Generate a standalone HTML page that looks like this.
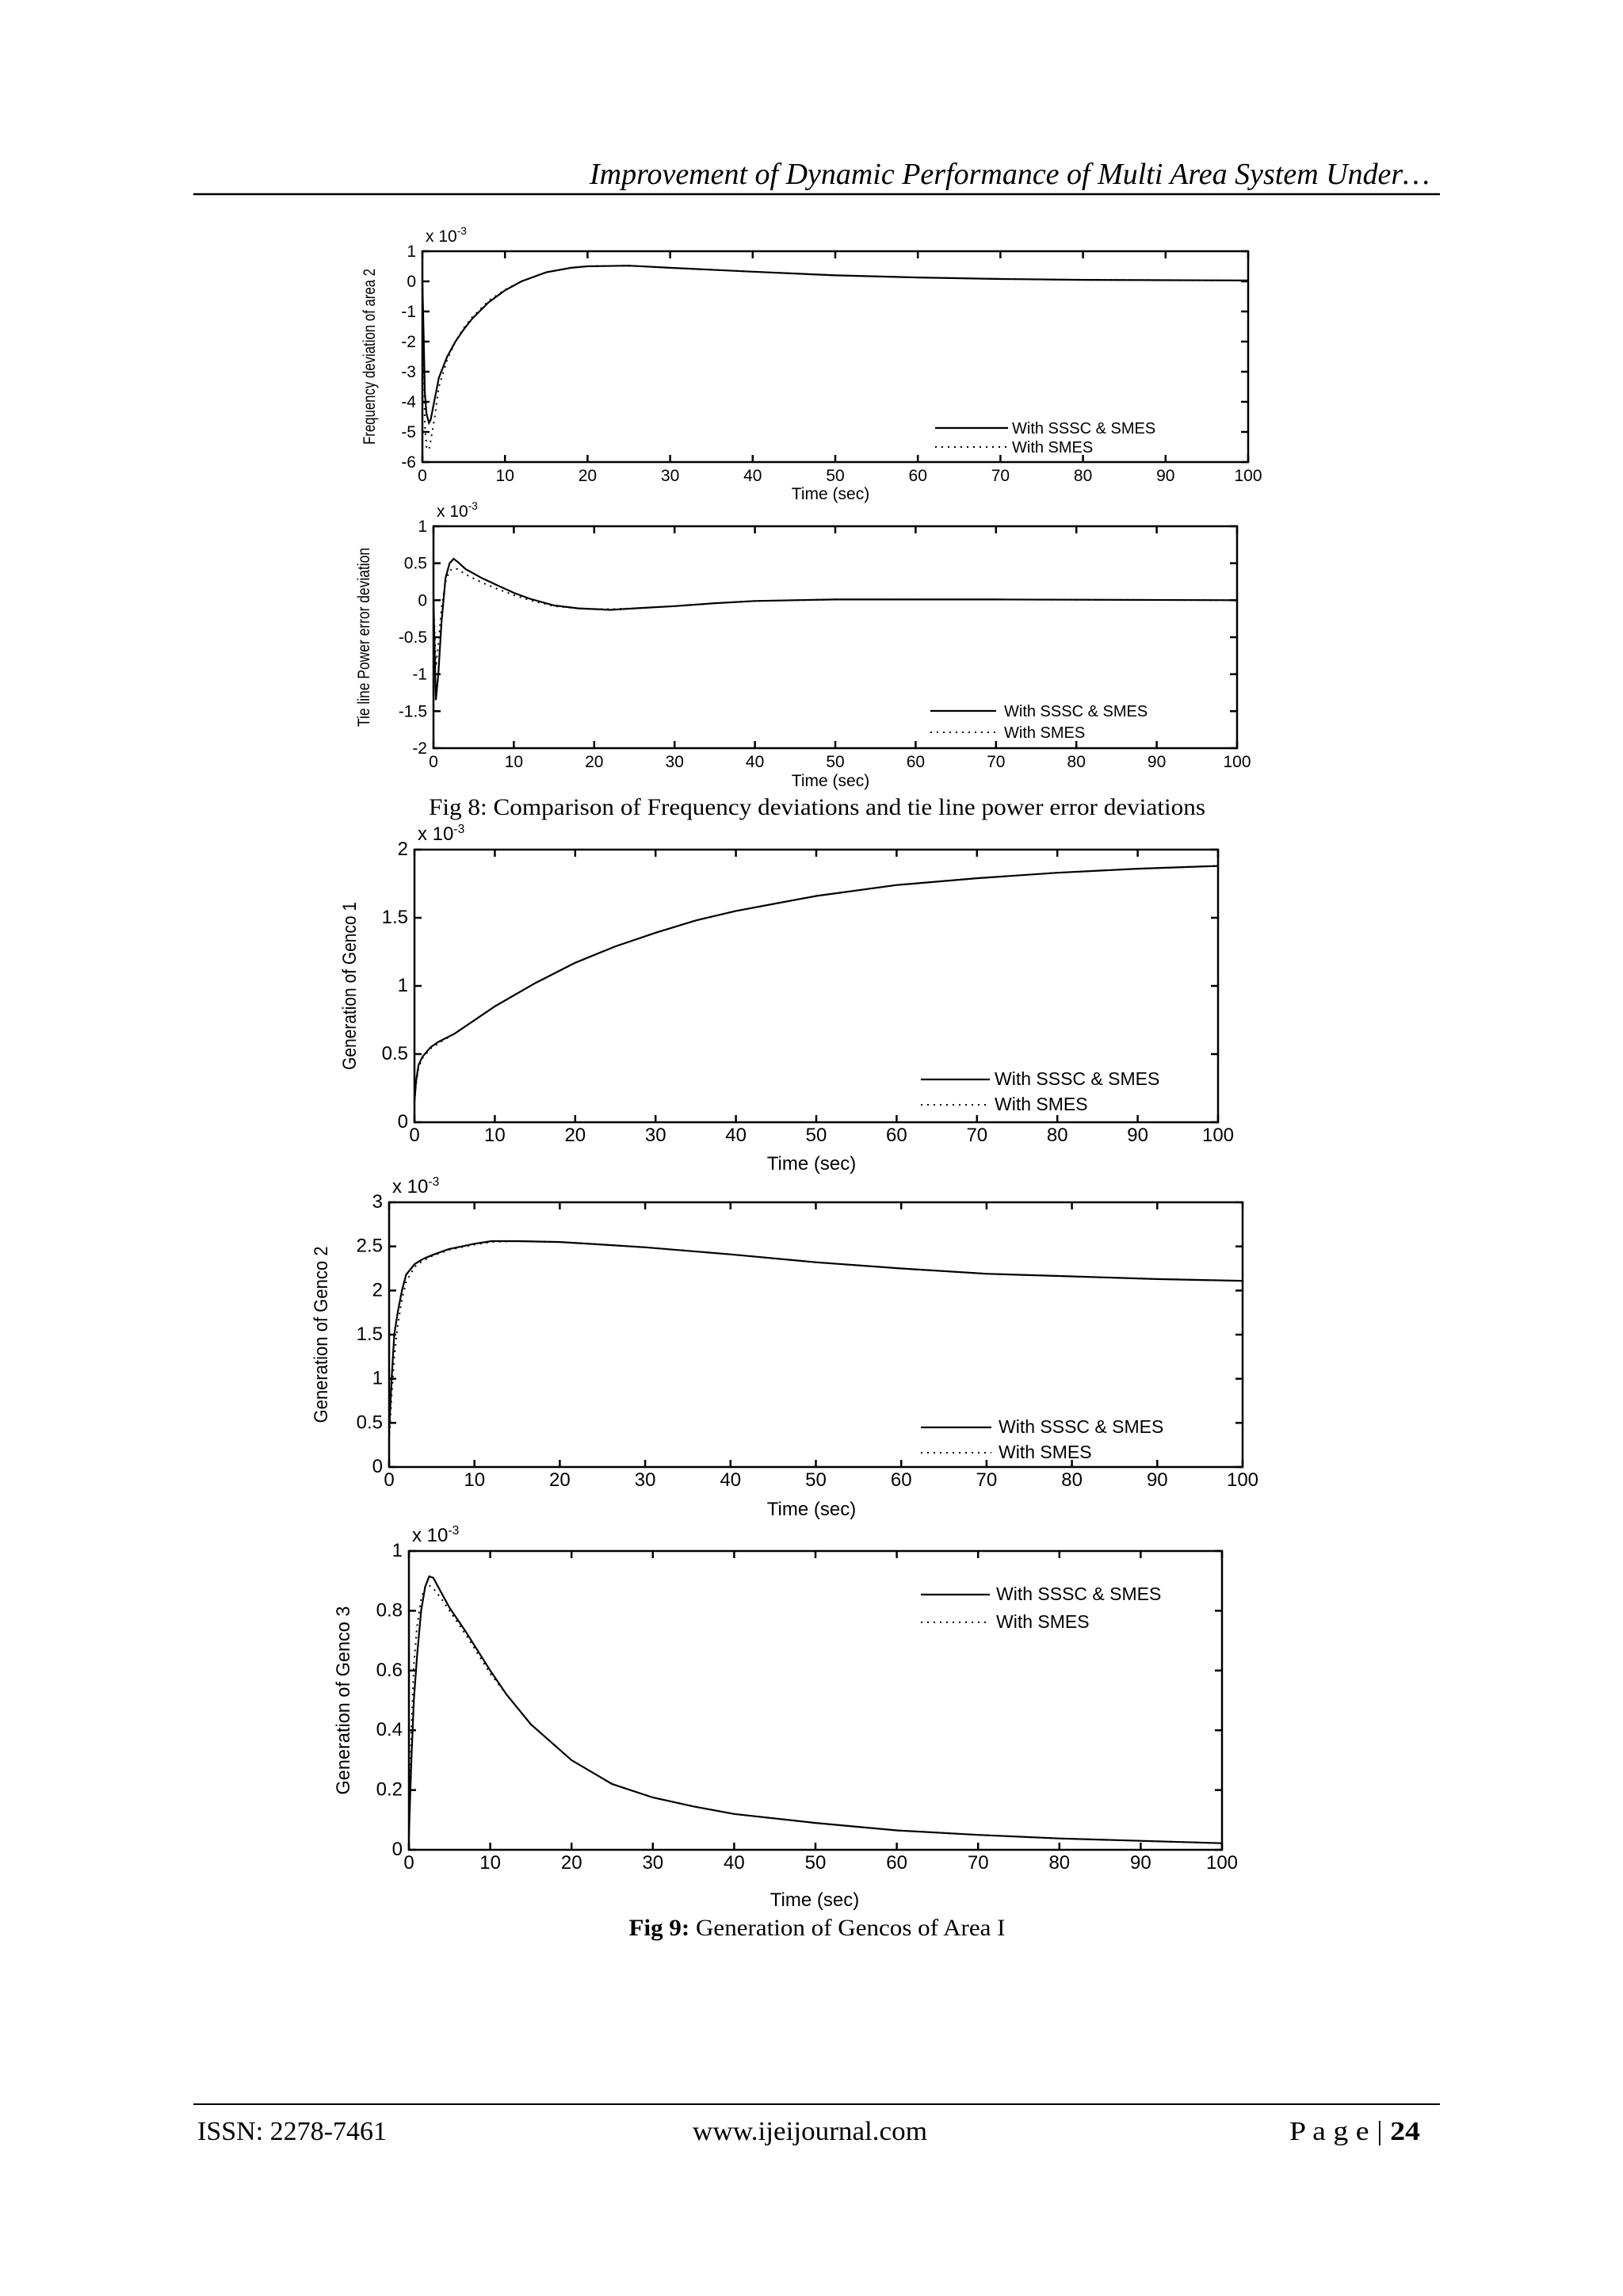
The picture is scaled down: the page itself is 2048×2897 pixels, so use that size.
<!DOCTYPE html>
<html><head><meta charset="utf-8"><style>
html,body{margin:0;padding:0;background:#fff;}
svg{display:block;}
</style></head><body>
<svg id="page" xmlns="http://www.w3.org/2000/svg" width="2048" height="2897" viewBox="0 0 2048 2897">
<rect x="0" y="0" width="2048" height="2897" fill="#fff"/>
<text x="1804" y="232" text-anchor="end" font-family="Liberation Serif, serif" font-style="italic" font-size="38" textLength="1060" lengthAdjust="spacingAndGlyphs">Improvement of Dynamic Performance of Multi Area System Under…</text>
<line x1="244" y1="245" x2="1817" y2="245" stroke="#000" stroke-width="2.5"/>
<text x="1031" y="1028" text-anchor="middle" font-family="Liberation Serif, serif" font-size="30" textLength="980" lengthAdjust="spacingAndGlyphs">Fig 8: Comparison of Frequency deviations and tie line power error deviations</text>
<text x="1031" y="2442" text-anchor="middle" font-family="Liberation Serif, serif" font-size="30" textLength="475" lengthAdjust="spacingAndGlyphs"><tspan font-weight="bold">Fig 9:</tspan> Generation of Gencos of Area I</text>
<line x1="244" y1="2655" x2="1817" y2="2655" stroke="#000" stroke-width="2"/>
<text x="249" y="2700" font-family="Liberation Serif, serif" font-size="34" textLength="239" lengthAdjust="spacingAndGlyphs">ISSN: 2278-7461</text>
<text x="874" y="2700" font-family="Liberation Serif, serif" font-size="34" textLength="296" lengthAdjust="spacingAndGlyphs">www.ijeijournal.com</text>
<text x="1627" y="2700" font-family="Liberation Serif, serif" font-size="34" textLength="165" lengthAdjust="spacingAndGlyphs">P a g e | <tspan font-weight="bold">24</tspan></text>
<g id="charts"></g>
</svg>
<script>
// ---- Chart data (values in units of 1e-3) ----
const freqT = [0,0.2,0.3,0.5,0.8,1,1.5,2,3,4,5,6,8,10,12,15,18,20,25,30,40,50,60,70,80,90,100];
const freqSolid = [0,-2.4,-3.7,-4.4,-4.7,-4.6,-3.9,-3.2,-2.5,-2.0,-1.6,-1.25,-0.7,-0.3,0,0.3,0.45,0.5,0.52,0.45,0.32,0.2,0.13,0.08,0.05,0.04,0.03];
const freqDotted = [0,-3.0,-4.8,-5.5,-5.6,-5.3,-4.5,-3.5,-2.6,-2.0,-1.55,-1.2,-0.65,-0.28,0,0.3,0.45,0.5,0.52,0.45,0.32,0.2,0.13,0.08,0.05,0.04,0.03];

const tieT = [0,0.3,0.6,1,1.5,2,2.5,3,4,6,8,10,12,15,18,20,22,25,30,35,40,45,50,70,100];
const tieSolid = [0,-1.35,-1.0,-0.3,0.3,0.5,0.56,0.52,0.42,0.3,0.2,0.1,0.02,-0.07,-0.11,-0.12,-0.13,-0.11,-0.08,-0.04,-0.01,0,0.01,0.01,0];
const tieDotted = [0,-0.9,-0.6,-0.1,0.25,0.4,0.43,0.42,0.35,0.24,0.15,0.07,0.0,-0.08,-0.11,-0.12,-0.12,-0.11,-0.08,-0.04,-0.01,0,0.01,0.01,0];

const g1T = [0,0.2,0.5,1,2,3,5,10,15,20,25,30,35,40,50,60,70,80,90,100];
const g1Solid = [0.15,0.3,0.42,0.48,0.55,0.59,0.65,0.85,1.02,1.17,1.29,1.39,1.48,1.55,1.66,1.74,1.79,1.83,1.86,1.88];
const g1Dotted = [0.15,0.28,0.4,0.47,0.54,0.58,0.65,0.85,1.02,1.17,1.29,1.39,1.48,1.55,1.66,1.74,1.79,1.83,1.86,1.88];

const g2T = [0,0.3,0.6,1,1.5,2,3,4,5,7,10,12,15,20,25,30,40,50,60,70,80,90,100];
const g2Solid = [0.4,1.0,1.5,1.75,2.0,2.18,2.3,2.36,2.4,2.47,2.53,2.56,2.56,2.55,2.52,2.49,2.41,2.32,2.25,2.19,2.16,2.13,2.11];
const g2Dotted = [0.3,0.8,1.25,1.6,1.9,2.1,2.27,2.34,2.39,2.46,2.52,2.55,2.56,2.55,2.52,2.49,2.41,2.32,2.25,2.19,2.16,2.13,2.11];

const g3T = [0,0.3,0.6,1,1.5,2,2.5,3,4,5,7,10,12,15,20,25,30,35,40,50,60,70,80,90,100];
const g3Solid = [0.05,0.3,0.5,0.65,0.8,0.88,0.915,0.91,0.86,0.81,0.73,0.6,0.52,0.42,0.3,0.22,0.175,0.145,0.12,0.09,0.065,0.05,0.038,0.03,0.022];
const g3Dotted = [0.05,0.4,0.62,0.75,0.84,0.88,0.885,0.875,0.84,0.8,0.72,0.59,0.52,0.42,0.3,0.22,0.175,0.145,0.12,0.09,0.065,0.05,0.038,0.03,0.022];

const xTicks = [0,10,20,30,40,50,60,70,80,90,100];
const freqYTicks = [-6,-5,-4,-3,-2,-1,0,1];
const tieYTicks = [-2,-1.5,-1,-0.5,0,0.5,1];
const g1YTicks = [0,0.5,1,1.5,2];
const g2YTicks = [0,0.5,1,1.5,2,2.5,3];
const g3YTicks = [0,0.2,0.4,0.6,0.8,1];

const NS = 'http://www.w3.org/2000/svg';
const root = document.getElementById('charts');
function mk(tag, attrs, parent){ const e=document.createElementNS(NS,tag); for(const k in attrs) e.setAttribute(k,attrs[k]); (parent||root).appendChild(e); return e; }

const charts = [
 {id:'freq', box:[533,317,1575,583], yr:[-6,1], yt:freqYTicks, t:freqT, s:freqSolid, d:freqDotted, ylab:'Frequency deviation of area 2', ylx:473, ylLen:222, xlY:630, xlC:1048, leg:[1180,1272,1277,540,564], lfs:20, fs:21},
 {id:'tie', box:[547,664,1561,944], yr:[-2,1], yt:tieYTicks, t:tieT, s:tieSolid, d:tieDotted, ylab:'Tie line Power error deviation', ylx:466, ylLen:226, xlY:992, xlC:1048, leg:[1174,1257,1267,897,924], lfs:20, fs:21},
 {id:'genco1', box:[523,1072,1537,1416], yr:[0,2], yt:g1YTicks, t:g1T, s:g1Solid, d:g1Dotted, ylab:'Generation of Genco 1', ylx:449, ylLen:212, xlY:1476, xlC:1024, leg:[1162,1249,1255,1362,1394], lfs:23, fs:24},
 {id:'genco2', box:[491,1517,1568,1851], yr:[0,3], yt:g2YTicks, t:g2T, s:g2Solid, d:g2Dotted, ylab:'Generation of Genco 2', ylx:413, ylLen:223, xlY:1912, xlC:1024, leg:[1162,1251,1260,1801,1833], lfs:23, fs:24},
 {id:'genco3', box:[516,1957,1542,2334], yr:[0,1], yt:g3YTicks, t:g3T, s:g3Solid, d:g3Dotted, ylab:'Generation of Genco 3', ylx:441, ylLen:238, xlY:2405, xlC:1028, leg:[1162,1249,1257,2012,2047], lfs:23, fs:24}
];

charts.forEach(c=>{
  const [L,T,R,B]=c.box;
  const g=mk('g',{});
  
  
  const X=v=>L+(v-0)/(100-0)*(R-L);
  const Y=v=>B-(v-c.yr[0])/(c.yr[1]-c.yr[0])*(B-T);
  const frame=mk('rect',{x:L,y:T,width:R-L,height:B-T,fill:'none',stroke:'#000','stroke-width':2.5},g);
  
  
  xTicks.forEach(v=>{
    const x=X(v);
    mk('line',{x1:x,y1:B,x2:x,y2:B-9,stroke:'#000','stroke-width':2.5},g);
    mk('line',{x1:x,y1:T,x2:x,y2:T+9,stroke:'#000','stroke-width':2.5},g);
    const tl=mk('text',{x:x,y:B+24,'text-anchor':'middle','font-family':'Liberation Sans, sans-serif','font-size':c.fs},g);
    tl.textContent=v;
    
    
  });
  c.yt.forEach(v=>{
    const y=Y(v);
    mk('line',{x1:L,y1:y,x2:L+9,y2:y,stroke:'#000','stroke-width':2.5},g);
    mk('line',{x1:R,y1:y,x2:R-9,y2:y,stroke:'#000','stroke-width':2.5},g);
    const tl=mk('text',{x:L-8,y:y+7,'text-anchor':'end','font-family':'Liberation Sans, sans-serif','font-size':c.fs},g);
    tl.textContent=v;
    
    
  });
  const ex=mk('text',{x:L+4,y:T-12,'font-family':'Liberation Sans, sans-serif','font-size':c.fs},g);
  ex.innerHTML='x 10<tspan dy="-9" font-size="'+(c.fs*0.65)+'">-3</tspan>';
  
  
  const yl=mk('text',{x:0,y:0,'text-anchor':'middle','font-family':'Liberation Sans, sans-serif','font-size':c.fs,textLength:c.ylLen,lengthAdjust:'spacingAndGlyphs',transform:'translate('+c.ylx+','+((T+B)/2)+') rotate(-90)'},g);
  yl.textContent=c.ylab;
  
  
  const xl=mk('text',{x:c.xlC,y:c.xlY,'text-anchor':'middle','font-family':'Liberation Sans, sans-serif','font-size':c.fs},g);
  xl.textContent='Time (sec)';
  
  
  const pts=(arr)=>c.t.map((t,i)=>X(t).toFixed(1)+','+Y(arr[i]).toFixed(1)).join(' ');
  const pd=mk('polyline',{points:pts(c.d),fill:'none',stroke:'#000','stroke-width':2,'stroke-dasharray':'2 6'},g);
  
  
  const ps=mk('polyline',{points:pts(c.s),fill:'none',stroke:'#000','stroke-width':2.2},g);
  
  
  const [lx1,lx2,tx,r1,r2]=c.leg;
  const lg=mk('g',{},g);
  
  
  mk('line',{x1:lx1,y1:r1,x2:lx2,y2:r1,stroke:'#000','stroke-width':2.2},lg);
  mk('line',{x1:lx1,y1:r2,x2:lx2,y2:r2,stroke:'#000','stroke-width':2,'stroke-dasharray':'2 6'},lg);
  const t1=mk('text',{x:tx,y:r1+7,'font-family':'Liberation Sans, sans-serif','font-size':c.lfs},lg);
  t1.textContent='With SSSC & SMES';
  
  
  const t2=mk('text',{x:tx,y:r2+7,'font-family':'Liberation Sans, sans-serif','font-size':c.lfs},lg);
  t2.textContent='With SMES';
  
  
});
</script>
</body></html>
